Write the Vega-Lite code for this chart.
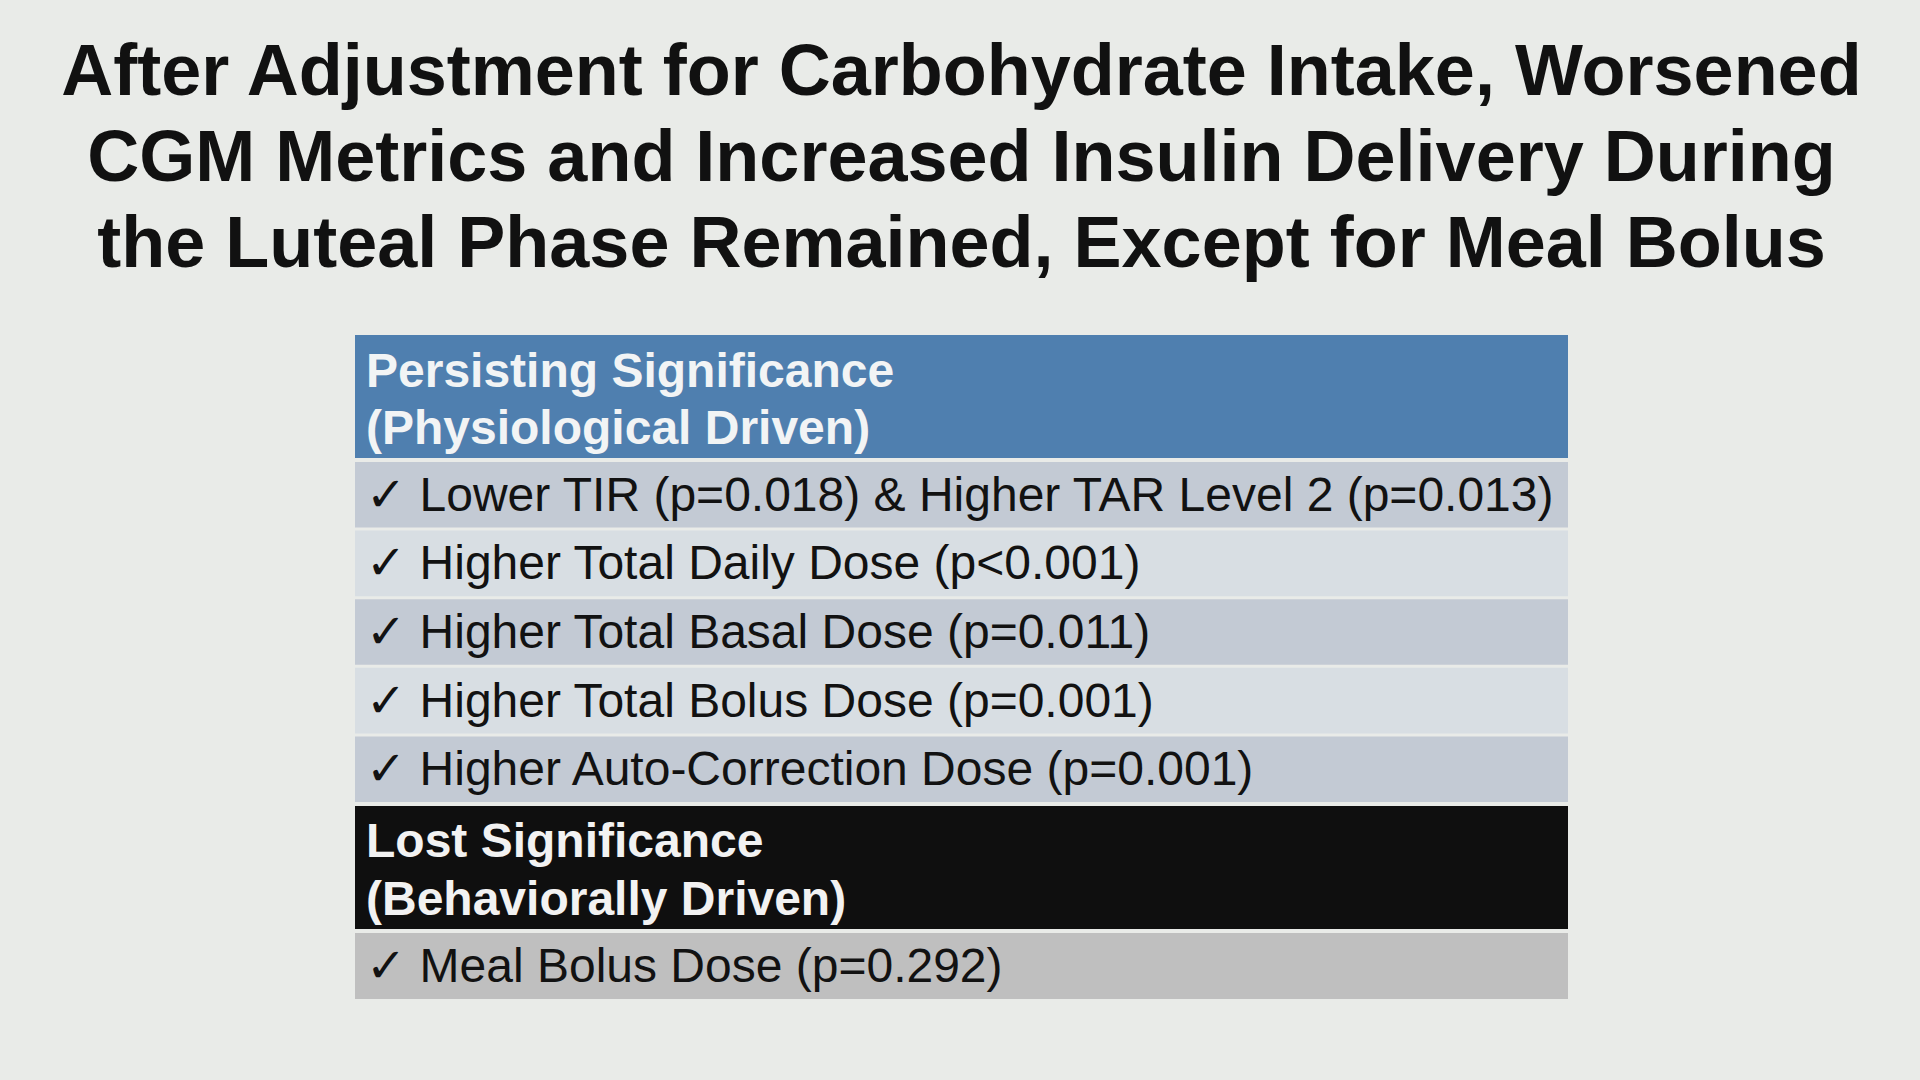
{
  "$schema": "https://vega.github.io/schema/vega-lite/v6.json",
  "background": "#e9ebe8",
  "padding": {"left": 60, "top": 37, "right": 64, "bottom": 81},
  "title": {
    "text": ["After Adjustment for Carbohydrate Intake, Worsened", "CGM Metrics and Increased Insulin Delivery During", "the Luteal Phase Remained, Except for Meal Bolus"],
    "font": "Liberation Sans",
    "fontSize": 72,
    "fontWeight": "bold",
    "lineHeight": 86,
    "color": "#111111",
    "anchor": "middle",
    "offset": 53
  },
  "config": {"view": {"stroke": null}},
  "spacing": 4,
  "vconcat": [
    {
      "width": 1213,
      "height": 123,
      "data": {"values": [{"group": "Persisting Significance\n(Physiological Driven)"}]},
      "layer": [
        {
          "mark": {"type": "rect", "color": "#4f7faf"},
          "encoding": {
            "x": {"datum": 0, "type": "quantitative", "scale": {"domain": [0, 1]}, "axis": null},
            "x2": {"datum": 1},
            "y": {"datum": 0, "type": "quantitative", "scale": {"domain": [0, 1]}, "axis": null},
            "y2": {"datum": 1}
          }
        },
        {
          "mark": {"type": "text", "align": "left", "baseline": "top", "dx": 11, "dy": 14, "font": "Liberation Sans", "fontSize": 48, "fontWeight": "bold", "color": "#f2f4f5", "lineBreak": "\n", "lineHeight": 57},
          "encoding": {
            "x": {"datum": 0, "type": "quantitative"},
            "y": {"datum": 1, "type": "quantitative"},
            "text": {"field": "group"}
          }
        }
      ]
    },
    {
      "width": 1213,
      "height": 340,
      "data": {"values": [
        {"item": "✓ Lower TIR (p=0.018) & Higher TAR Level 2 (p=0.013)"},
        {"item": "✓ Higher Total Daily Dose (p<0.001)"},
        {"item": "✓ Higher Total Basal Dose (p=0.011)"},
        {"item": "✓ Higher Total Bolus Dose (p=0.001)"},
        {"item": "✓ Higher Auto-Correction Dose (p=0.001)"}
      ]},
      "layer": [
        {
          "mark": {"type": "bar"},
          "encoding": {
            "y": {"field": "item", "type": "nominal", "sort": null, "scale": {"paddingInner": 0.045, "paddingOuter": 0}, "axis": null},
            "x": {"datum": 0, "type": "quantitative", "scale": {"domain": [0, 1]}, "axis": null},
            "x2": {"datum": 1},
            "color": {"field": "item", "type": "nominal", "sort": null, "scale": {"range": ["#c3cad4", "#d8dee3", "#c3cad4", "#d8dee3", "#c3cad4"]}, "legend": null}
          }
        },
        {
          "mark": {"type": "text", "align": "left", "baseline": "middle", "dx": 11, "dy": 2, "font": "Liberation Sans, DejaVu Sans", "fontSize": 48, "color": "#121212"},
          "encoding": {
            "y": {"field": "item", "type": "nominal", "sort": null},
            "x": {"datum": 0, "type": "quantitative"},
            "text": {"field": "item"}
          }
        }
      ]
    },
    {
      "width": 1213,
      "height": 123,
      "data": {"values": [{"group": "Lost Significance\n(Behaviorally Driven)"}]},
      "layer": [
        {
          "mark": {"type": "rect", "color": "#0f0f0f"},
          "encoding": {
            "x": {"datum": 0, "type": "quantitative", "scale": {"domain": [0, 1]}, "axis": null},
            "x2": {"datum": 1},
            "y": {"datum": 0, "type": "quantitative", "scale": {"domain": [0, 1]}, "axis": null},
            "y2": {"datum": 1}
          }
        },
        {
          "mark": {"type": "text", "align": "left", "baseline": "top", "dx": 11, "dy": 13, "font": "Liberation Sans", "fontSize": 48, "fontWeight": "bold", "color": "#f2f2f2", "lineBreak": "\n", "lineHeight": 58},
          "encoding": {
            "x": {"datum": 0, "type": "quantitative"},
            "y": {"datum": 1, "type": "quantitative"},
            "text": {"field": "group"}
          }
        }
      ]
    },
    {
      "width": 1213,
      "height": 66,
      "data": {"values": [{"item": "✓ Meal Bolus Dose (p=0.292)"}]},
      "layer": [
        {
          "mark": {"type": "bar", "color": "#bfbfbf"},
          "encoding": {
            "y": {"field": "item", "type": "nominal", "scale": {"paddingInner": 0, "paddingOuter": 0}, "axis": null},
            "x": {"datum": 0, "type": "quantitative", "scale": {"domain": [0, 1]}, "axis": null},
            "x2": {"datum": 1}
          }
        },
        {
          "mark": {"type": "text", "align": "left", "baseline": "middle", "dx": 11, "dy": 2, "font": "Liberation Sans, DejaVu Sans", "fontSize": 48, "color": "#121212"},
          "encoding": {
            "y": {"field": "item", "type": "nominal"},
            "x": {"datum": 0, "type": "quantitative"},
            "text": {"field": "item"}
          }
        }
      ]
    }
  ]
}
